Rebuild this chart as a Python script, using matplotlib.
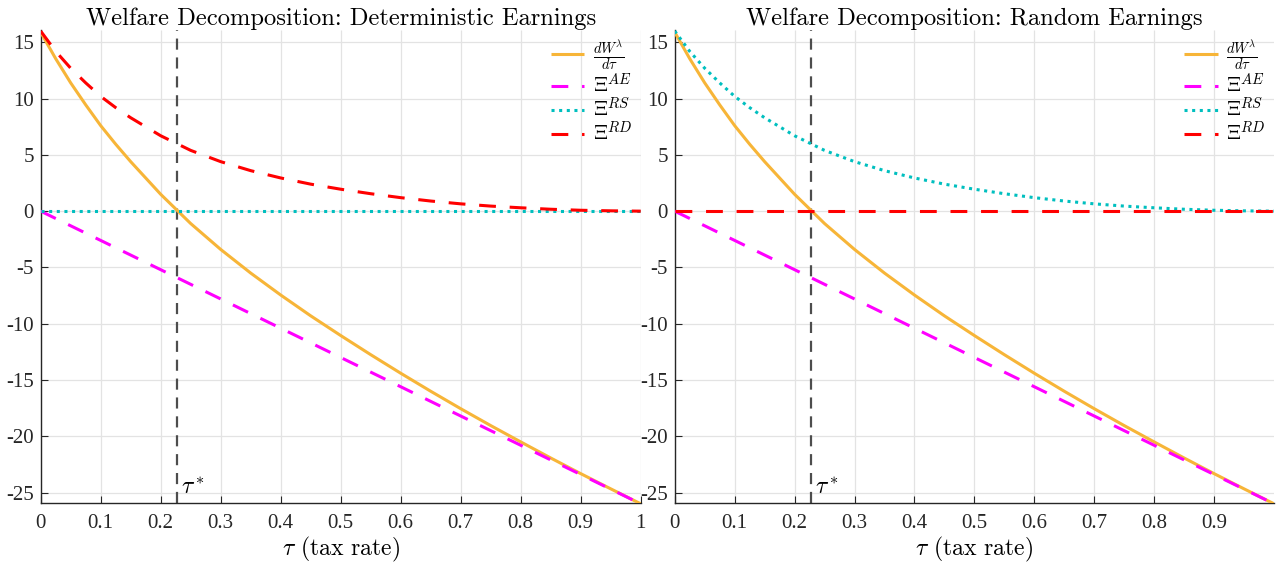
import matplotlib
matplotlib.use("Agg")
from matplotlib import pyplot as plt
from matplotlib.ticker import FuncFormatter

# values
tau = [0.0, 0.025, 0.05, 0.075, 0.1, 0.125, 0.15, 0.175, 0.2, 0.25, 0.3, 0.35,
       0.4, 0.45, 0.5, 0.55, 0.6, 0.65, 0.7, 0.75, 0.8, 0.85, 0.9, 0.95, 1.0]
dW = [15.9, 13.55, 11.4, 9.45, 7.6, 5.95, 4.4, 2.95, 1.5, -1.1, -3.4, -5.5,
      -7.45, -9.3, -11.05, -12.75, -14.4, -16.0, -17.55, -19.05, -20.5, -21.93,
      -23.32, -24.67, -26.0]
xi_ae = [0.0, -0.65, -1.3, -1.95, -2.6, -3.25, -3.9, -4.55, -5.2, -6.5, -7.8, -9.1,
         -10.4, -11.7, -13.0, -14.3, -15.6, -16.9, -18.2, -19.5, -20.8, -22.1,
         -23.4, -24.7, -26.0]
xi_redist = [16.0, 14.2, 12.7, 11.4, 10.2, 9.2, 8.3, 7.5, 6.7, 5.4, 4.4, 3.6,
             2.95, 2.4, 1.95, 1.55, 1.2, 0.9, 0.65, 0.45, 0.3, 0.17, 0.08, 0.03, 0.0]
xi_zero = [0.0] * len(tau)
tau_star = 0.228

plt.rcParams["mathtext.fontset"] = "cm"
plt.rcParams["axes.unicode_minus"] = False
plt.rcParams["lines.solid_capstyle"] = "butt"

fig = plt.figure(figsize=(12.83, 5.65), dpi=100)
ax1 = fig.add_axes([0.0317, 0.1097, 0.4677, 0.8373])
ax2 = fig.add_axes([0.5259, 0.1097, 0.4671, 0.8373])

yellow = "#F7B538"
magenta = "#FF00FF"
cyan = "#00BFBF"
red = "#FF0000"
lw = 2.2
dash = (0, (5.5, 4.5))

panels = [
    (ax1, "Welfare Decomposition: Deterministic Earnings", xi_zero, xi_redist,
     [0, 0.1, 0.2, 0.3, 0.4, 0.5, 0.6, 0.7, 0.8, 0.9, 1.0]),
    (ax2, "Welfare Decomposition: Random Earnings", xi_redist, xi_zero,
     [0, 0.1, 0.2, 0.3, 0.4, 0.5, 0.6, 0.7, 0.8, 0.9]),
]

fmt = FuncFormatter(lambda v, p: ("%g" % v))

for ax, title, rs, rd, xticks in panels:
    ax.plot(tau, dW, color=yellow, lw=lw, label=r"$\frac{dW^\lambda}{d\tau}$", zorder=3)
    ax.plot(tau, xi_ae, color=magenta, lw=lw, ls=dash, label=r"$\Xi^{AE}$", zorder=3)
    ax.plot(tau, rs, color=cyan, lw=lw, ls=(0, (1, 1.5)), label=r"$\Xi^{RS}$", zorder=3)
    ax.plot(tau, rd, color=red, lw=lw, ls=dash, label=r"$\Xi^{RD}$", zorder=3)
    ax.axvline(tau_star, color="#4D4D4D", lw=1.6, ls=(0, (5, 3.5)), zorder=2)
    ax.text(tau_star + 0.006, -25.6, r"$\tau^*$", fontsize=17, va="bottom", ha="left")

    ax.set_xlim(0, 1.0)
    ax.set_ylim(-25.93, 16.1)
    ax.set_xticks(xticks)
    ax.set_yticks([-25, -20, -15, -10, -5, 0, 5, 10, 15])
    ax.xaxis.set_major_formatter(fmt)
    ax.yaxis.set_major_formatter(fmt)
    ax.grid(True, color="#E3E3E3", lw=0.9)
    ax.set_axisbelow(True)
    for side in ["top", "right"]:
        ax.spines[side].set_visible(False)
    for side in ["left", "bottom"]:
        ax.spines[side].set_color("#262626")
        ax.spines[side].set_linewidth(1.0)
    ax.tick_params(direction="in", length=5, color="#262626", labelsize=15,
                   labelcolor="#262626")
    ax.tick_params(axis="x", pad=8)
    ax.tick_params(axis="y", pad=5)
    for lab in ax.get_xticklabels() + ax.get_yticklabels():
        lab.set_fontfamily("Liberation Serif")

    ax.set_title(title, fontsize=17.7, family="cmr10", pad=3)
    ax.set_xlabel(r"$\tau$ (tax rate)", fontsize=17, family="cmr10", labelpad=1)

    ax.legend(loc="upper right", frameon=False, fontsize=15, handlelength=1.6,
              labelspacing=0.0, handletextpad=0.4, borderaxespad=0.0)

plt.savefig("out.png", dpi=100)
